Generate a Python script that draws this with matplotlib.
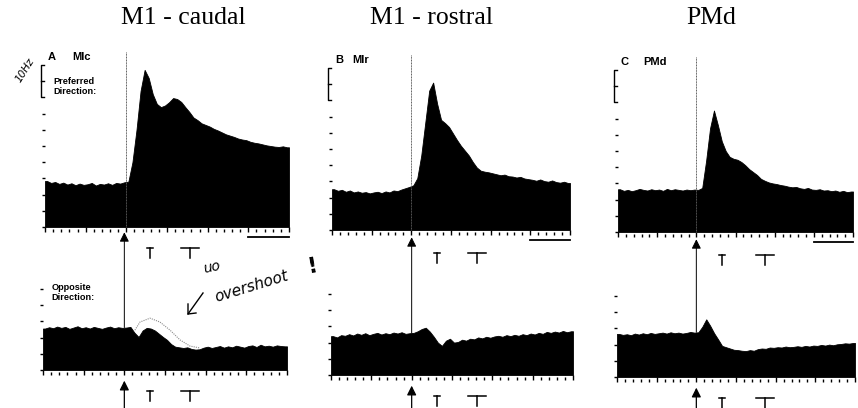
import numpy as np
import matplotlib.pyplot as plt

# PSTHs, firing rate (Hz) in 25 ms bins from -500 to +1000 ms re: event
BIN_MS = 25
T_START, T_END = -500, 1000

mlc_pref = [14.2, 13.6, 13.9, 13.3, 13.7, 13.1, 13.5, 12.9, 13.4, 13.0,
            13.2, 13.6, 12.8, 13.3, 13.1, 13.5, 13.0, 13.6, 13.4, 13.8,
            14.0, 20.0, 30.0, 42.0, 48.5, 46.0, 41.0, 38.0, 37.0, 37.5,
            38.5, 39.8, 39.5, 38.6, 37.0, 35.5, 33.8, 33.0, 32.0, 31.5,
            31.0, 30.3, 29.8, 29.2, 28.6, 28.2, 27.8, 27.3, 27.0, 26.8,
            26.3, 26.0, 25.8, 25.5, 25.2, 25.0, 24.8, 24.7, 24.9, 24.6]
mlr_pref = [12.6, 12.1, 12.4, 11.8, 12.2, 11.6, 11.9, 11.5, 11.7, 11.3,
            11.6, 11.8, 11.4, 11.9, 11.6, 12.2, 12.0, 12.5, 12.9, 13.3,
            13.8, 16.0, 23.0, 33.0, 43.0, 45.5, 39.0, 34.0, 33.0, 31.8,
            29.8, 27.8, 26.0, 24.5, 23.0, 21.0, 19.3, 18.3, 18.0, 17.8,
            17.5, 17.2, 16.9, 17.1, 16.6, 16.5, 16.2, 16.4, 15.9, 15.7,
            15.5, 15.2, 15.6, 15.1, 14.9, 15.3, 14.8, 14.6, 14.9, 14.5]
pmd_pref = [13.2, 12.7, 13.0, 12.6, 12.9, 13.3, 13.0, 12.8, 13.2, 12.9,
            13.1, 12.7, 13.3, 12.9, 13.2, 13.0, 12.8, 13.1, 12.9, 13.1,
            13.0, 13.6, 22.0, 32.0, 37.5, 33.0, 28.0, 25.0, 23.2, 22.6,
            22.3, 21.6, 20.6, 19.4, 18.5, 17.6, 16.4, 15.8, 15.3, 15.0,
            14.8, 14.5, 14.3, 14.0, 13.8, 13.9, 13.5, 13.3, 13.6, 13.1,
            13.0, 13.2, 12.8, 12.9, 12.6, 12.8, 12.4, 12.7, 12.3, 12.5]

mlc_opp = [12.8, 13.2, 12.9, 13.4, 13.0, 13.3, 12.7, 13.1, 13.5, 12.9,
           13.2, 12.8, 13.3, 13.0, 12.7, 13.1, 13.4, 12.9, 13.2, 13.0,
           13.1, 13.3, 11.5, 10.2, 12.2, 13.0, 12.8, 12.2, 11.2, 10.2,
           9.3, 8.0, 7.2, 7.0, 6.8, 7.0, 6.5, 6.3, 6.4, 6.9,
           7.2, 6.8, 7.1, 7.4, 6.9, 7.3, 7.0, 7.5, 7.2, 6.9,
           7.4, 7.6, 7.1, 7.8, 7.3, 7.5, 7.2, 7.6, 7.4, 7.3]
mlr_opp = [12.0, 11.6, 12.3, 12.1, 12.6, 12.2, 12.8, 12.4, 12.9, 12.3,
           12.7, 13.0, 12.5, 12.9, 12.6, 13.1, 12.8, 13.2, 12.7, 12.9,
           13.0, 13.5, 14.2, 14.6, 13.4, 11.8, 10.0, 9.0, 10.6, 11.2,
           10.0, 10.2, 10.9, 10.6, 11.2, 11.0, 11.6, 11.3, 11.8, 11.5,
           11.9, 12.1, 11.8, 12.3, 12.0, 12.4, 12.1, 12.6, 12.3, 12.8,
           12.5, 13.0, 12.7, 13.3, 13.0, 13.4, 13.1, 13.6, 13.2, 13.5]
pmd_opp = [13.3, 13.0, 13.2, 12.9, 13.4, 13.1, 13.5, 13.2, 13.6, 13.3,
           13.5, 13.7, 13.4, 13.8, 13.5, 13.7, 13.4, 13.6, 13.9, 13.7,
           13.8, 15.5, 17.8, 15.8, 13.5, 11.6, 9.6, 9.2, 8.8, 8.4,
           8.3, 8.1, 8.0, 8.3, 8.1, 8.6, 8.8, 8.7, 9.1, 9.0,
           9.2, 9.1, 9.4, 9.2, 9.3, 9.5, 9.3, 9.6, 9.4, 9.7,
           9.6, 9.9, 9.7, 10.0, 9.8, 10.1, 10.2, 10.4, 10.3, 10.5]

# hand-drawn "overshoot" sketch on the Mlc opposite-direction panel
sketch_t = [65, 96, 158, 219, 281, 342, 403, 465]
sketch_hz = [12.3, 14.8, 16.0, 14.8, 12.3, 9.3, 7.4, 6.8]

titles = ["M1 - caudal", "M1 - rostral", "PMd"]
letters = ["A", "B", "C"]
areas = ["Mlc", "Mlr", "PMd"]
# behavioural markers: (time ms, half width of cap ms)
markers = [[(158, 18), (403, 55)],
           [(157, 18), (405, 55)],
           [(162, 18), (433, 55)]]

W, H = 858, 408
PX_PER_HZ = 3.24
TOP_YLIM = (-1.5, 56)
BOT_YLIM = (-1.5, 30)
# panel placement in pixels: x at -500 ms, x at +1000 ms, y at 0 Hz
top_px = [(45, 289, 227), (332, 570, 230), (618, 853, 232)]
bot_px = [(43, 287, 370), (331, 573, 375), (617, 855, 377)]
name_t = [-334, -374, -340]
title_x = [183, 431, 711]


def add_panel(fig, px, ylim):
    x0, x1, y0 = px
    bottom = y0 - ylim[0] * PX_PER_HZ
    top = y0 - ylim[1] * PX_PER_HZ
    ax = fig.add_axes([x0 / W, (H - bottom) / H, (x1 - x0) / W, (bottom - top) / H])
    ax.set_xlim(T_START, T_END)
    ax.set_ylim(*ylim)
    for s in ax.spines.values():
        s.set_visible(False)
    ax.set_xticks(np.arange(T_START, T_END + 1, 250))
    ax.set_xticks(np.arange(T_START, T_END + 1, 50), minor=True)
    ax.tick_params(axis="x", which="major", direction="in", length=3.5, width=1.0,
                   labelbottom=False)
    ax.tick_params(axis="x", which="minor", direction="in", length=2.2, width=1.0)
    ax.tick_params(axis="y", direction="out", length=2.5, width=1.0, labelleft=False)
    ax.patch.set_alpha(0)
    return ax


def draw_psth(ax, rates):
    centers = np.arange(T_START, T_END, BIN_MS) + BIN_MS / 2
    t = np.concatenate([[T_START], centers, [T_END]])
    r = np.concatenate([[rates[0]], rates, [rates[-1]]])
    ax.fill_between(t, 0, r, color="black", lw=0.6, edgecolor="black")


def draw_markers(ax, marks, y_lo, y_hi):
    for t, hw in marks:
        ax.plot([t, t], [y_lo, y_hi], color="black", lw=1.1, clip_on=False)
        ax.plot([t - hw, t + hw], [y_hi, y_hi], color="black", lw=1.1, clip_on=False)


fig = plt.figure(figsize=(W / 100, H / 100), dpi=100)
fig.patch.set_facecolor("white")

pref = [mlc_pref, mlr_pref, pmd_pref]
opp = [mlc_opp, mlr_opp, pmd_opp]

for i in range(3):
    # preferred direction
    ax = add_panel(fig, top_px[i], TOP_YLIM)
    draw_psth(ax, pref[i])
    ax.set_yticks(range(0, 36, 5))
    ax.plot([0, 0], [0, 54], color="0.35", lw=0.7, ls=(0, (1, 0.6)))
    # 10 Hz calibration bracket
    ax.plot([-505, -525, -525, -505], [50, 50, 40, 40], color="black", lw=1.0,
            clip_on=False)
    ax.plot([-525, -508], [45, 45], color="black", lw=1.0, clip_on=False)
    # 250 ms time bar
    ax.plot([750, 1000], [-3.2, -3.2], color="black", lw=1.3, clip_on=False)
    ax.text(-482, 52.5, letters[i], fontsize=8, fontweight="bold",
            family="Liberation Sans", va="center")
    ax.text(name_t[i], 52.5, areas[i], fontsize=8, fontweight="bold",
            family="Liberation Sans", va="center")
    if i == 0:
        ax.text(-450, 43.3, "Preferred\nDirection:", fontsize=6.6, fontweight="bold",
                family="Liberation Sans", va="center", linespacing=1.1)

    # opposite direction
    ax2 = add_panel(fig, bot_px[i], BOT_YLIM)
    draw_psth(ax2, opp[i])
    ax2.set_yticks(range(0, 26, 5))
    ev = opp[i][20]
    ax2.annotate("", xy=(0, 42.5), xytext=(0, ev), annotation_clip=False,
                 arrowprops=dict(arrowstyle="-|>", color="black", lw=0.7,
                                 mutation_scale=14, shrinkA=0, shrinkB=0))
    ax2.annotate("", xy=(0, -3.3), xytext=(0, -12), annotation_clip=False,
                 arrowprops=dict(arrowstyle="-|>", color="black", lw=0.9,
                                 mutation_scale=14, shrinkA=0, shrinkB=0))
    draw_markers(ax2, markers[i], 34.6, 37.6)
    draw_markers(ax2, markers[i], -9.6, -6.6)
    if i == 0:
        ax2.text(-450, 24.0, "Opposite\nDirection:", fontsize=6.6, fontweight="bold",
                 family="Liberation Sans", va="center", linespacing=1.1)
        ax2.plot(sketch_t, sketch_hz, color="0.55", lw=0.8, ls=(0, (1, 1)))

    fig.text(title_x[i] / W, 1 - 18 / H, titles[i], ha="center", va="center",
             fontsize=18.5, family="Liberation Serif")

# handwritten notes
fig.text(25 / W, 1 - 70 / H, "10Hz", rotation=58, fontsize=7.5, style="italic",
         ha="center", va="center")
fig.text(212 / W, 1 - 267 / H, "uo", rotation=12, fontsize=10, style="italic",
         ha="center", va="center")
fig.text(252 / W, 1 - 287 / H, "overshoot", rotation=17, fontsize=11, style="italic",
         ha="center", va="center")
fig.text(313 / W, 1 - 266 / H, "!", rotation=10, fontsize=16, fontweight="bold",
         ha="center", va="center")
fig.add_artist(plt.Line2D([203 / W, 188 / W], [1 - 293 / H, 1 - 314 / H],
                          color="black", lw=1.0))
fig.add_artist(plt.Line2D([188 / W, 188 / W, 196 / W],
                          [1 - 304 / H, 1 - 314 / H, 1 - 313 / H],
                          color="black", lw=1.0))

fig.savefig("out.png", dpi=100)
